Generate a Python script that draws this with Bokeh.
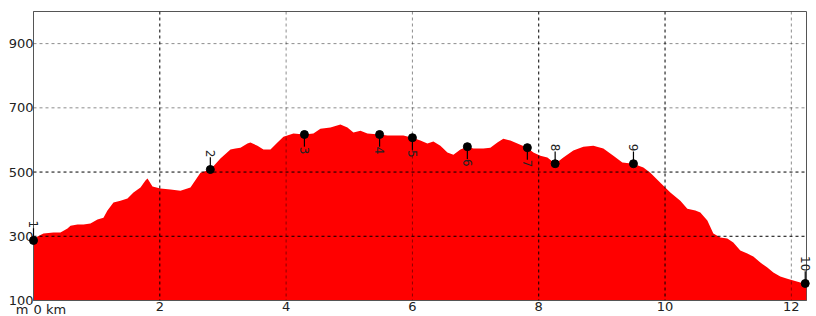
import numpy as np
from bokeh.plotting import figure
from bokeh.models import Span, FixedTicker, ColumnDataSource
from bokeh.embed import file_html
from bokeh.resources import INLINE
from bokeh.core.properties import value

# ---- data ----
dist_km = [0.000, 0.063, 0.158, 0.317, 0.427, 0.538, 0.586, 0.697, 0.792, 0.902,
           1.013, 1.108, 1.171, 1.266, 1.377, 1.488, 1.583, 1.694, 1.773, 1.805,
           1.884, 2.010, 2.169, 2.327, 2.485, 2.644, 2.802, 2.960, 3.119, 3.198,
           3.277, 3.388, 3.435, 3.546, 3.641, 3.752, 3.863, 3.958, 4.116, 4.290,
           4.432, 4.543, 4.702, 4.860, 4.971, 5.066, 5.177, 5.287, 5.477, 5.604,
           5.762, 5.857, 6.000, 6.126, 6.237, 6.332, 6.443, 6.554, 6.649, 6.760,
           6.870, 6.965, 7.124, 7.234, 7.345, 7.440, 7.551, 7.662, 7.820, 7.915,
           8.026, 8.137, 8.263, 8.390, 8.548, 8.707, 8.865, 9.023, 9.182, 9.324,
           9.498, 9.657, 9.767, 9.926, 10.084, 10.242, 10.353, 10.480, 10.559, 10.670,
           10.765, 10.876, 10.986, 11.081, 11.192, 11.303, 11.398, 11.509, 11.620, 11.715,
           11.825, 11.936, 12.031, 12.142, 12.221, 12.240]
elev_m = [287, 299, 309, 312, 312, 324, 333, 337, 337, 340,
          352, 358, 380, 405, 411, 418, 436, 452, 474, 480,
          455, 449, 446, 442, 452, 498, 508, 542, 570, 573,
          576, 589, 592, 582, 570, 570, 592, 610, 620, 617,
          620, 635, 639, 648, 639, 623, 629, 620, 617, 614,
          614, 614, 607, 598, 589, 595, 582, 561, 554, 570,
          579, 573, 573, 576, 592, 604, 598, 589, 576, 561,
          551, 545, 526, 545, 567, 579, 582, 573, 551, 530,
          526, 514, 498, 467, 436, 411, 386, 380, 374, 349,
          309, 296, 293, 281, 256, 246, 237, 218, 203, 187,
          175, 168, 162, 156, 153, 153]

wp_names = ["1", "2", "3", "4", "5", "6", "7", "8", "9", "10"]
wp_km = [0.0, 2.80, 4.29, 5.48, 6.00, 6.87, 7.82, 8.26, 9.50, 12.22]
wp_elev = [287, 508, 617, 617, 607, 579, 576, 526, 526, 153]
wp_above = [True, True, False, False, False, False, False, True, True, True]

x_ticks = [0, 2, 4, 6, 8, 10, 12]
x_tick_labels = ["", "2", "4", "6", "8", "10", "12"]
y_ticks = [100, 300, 500, 700, 900]
corner_labels = ["m", "0 km"]

FONT = "DejaVu Sans"
LEADER_M = 38  # leader line length in metres (~12 px)

p = figure(width=816, height=316, x_range=(0, 12.24), y_range=(100, 1000),
           output_backend="svg", toolbar_location=None,
           min_border_left=33, min_border_right=10, min_border_top=11, min_border_bottom=16)
p.background_fill_color = "white"
p.border_fill_color = "white"
p.outline_line_color = "#555555"
p.xgrid.visible = False
p.ygrid.visible = False

# profile
p.varea(x=dist_km, y1=100, y2=elev_m, fill_color="#ff0000")

# grid as spans (drawn over the profile)
dark_x = {2, 8, 10}
dark_y = {300, 500}
for t in x_ticks[1:]:
    p.add_layout(Span(location=t, dimension="height", line_color="black",
                      line_alpha=1.0 if t in dark_x else 0.45,
                      line_dash="3 3", line_width=1))
for t in y_ticks[1:]:
    p.add_layout(Span(location=t, dimension="width", line_color="black",
                      line_alpha=1.0 if t in dark_y else 0.45,
                      line_dash="3 3", line_width=1))

# waypoints
lead_end = [e + (LEADER_M if a else -LEADER_M) for e, a in zip(wp_elev, wp_above)]
src = ColumnDataSource(dict(x=wp_km, y=wp_elev, y1=lead_end, name=wp_names,
                            align=["right" if a else "left" for a in wp_above]))
seg = p.segment(x0="x", y0="y", x1="x", y1="y1", source=src, line_color="black", line_width=1.2)
sc = p.scatter(x="x", y="y", source=src, size=8, fill_color="black", line_color="black")
tx = p.text(x="x", y="y1", text="name", source=src, angle=-np.pi / 2,
            text_align="align", text_baseline="alphabetic",
            text_font=value(FONT), text_font_size="12px", text_color="#222222")

# corner unit labels ("m" for the y axis, "0 km" for the x origin)
csrc = ColumnDataSource(dict(x=[x_ticks[0]] * 2, y=[y_ticks[0]] * 2, text=corner_labels,
                             align=["right", "left"], xo=[-5, 0]))
ct = p.text(x="x", y="y", text="text", source=csrc, text_align="align",
            text_baseline="top", x_offset="xo", y_offset=1,
            text_font=value(FONT), text_font_size="13px", text_color="#222222")
for r in (seg, sc, tx, ct):
    r.level = "overlay"

# axes
for ax in (p.xaxis[0], p.yaxis[0]):
    ax.major_tick_line_color = None
    ax.minor_tick_line_color = None
    ax.axis_line_color = "#555555"
    ax.major_label_text_font = FONT
    ax.major_label_text_font_size = "13px"
    ax.major_label_text_color = "#222222"
    ax.major_label_standoff = 0
    ax.major_tick_out = 0
    ax.major_tick_in = 0

p.xaxis.ticker = FixedTicker(ticks=x_ticks)
p.xaxis.major_label_overrides = {t: l for t, l in zip(x_ticks, x_tick_labels)}
p.xaxis.major_label_standoff = 1
p.yaxis.ticker = FixedTicker(ticks=y_ticks)
p.yaxis.major_label_text_baseline = "alphabetic"

open("out.html", "w").write(file_html(p, INLINE))
